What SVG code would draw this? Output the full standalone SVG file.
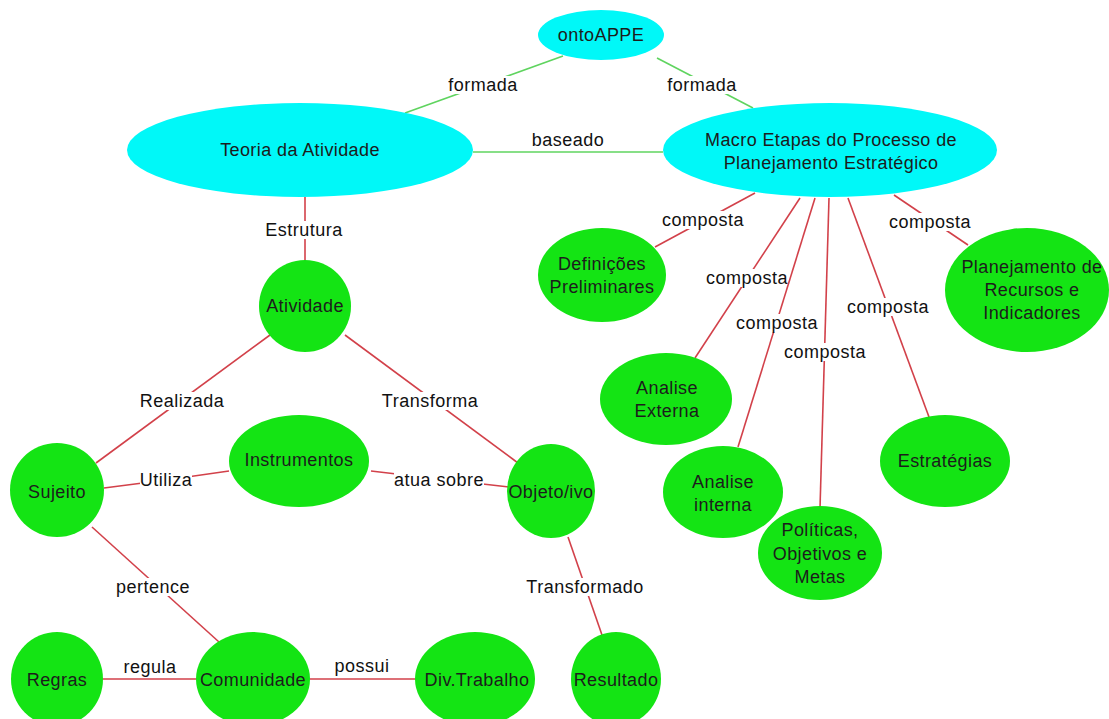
<svg xmlns="http://www.w3.org/2000/svg" width="1109" height="719" viewBox="0 0 1109 719">
  <style>
    .bg { fill: #ffffff; }
    .cy { fill: #00f8f8; }
    .gr { fill: #14e414; }
    .nt { font-family: "Liberation Sans", Arial, sans-serif; font-size: 18px; letter-spacing: 0.4px; fill: #1c1c1c; text-anchor: middle; }
    .lt { font-family: "Liberation Sans", Arial, sans-serif; font-size: 18px; letter-spacing: 0.5px; fill: #111111; text-anchor: middle; }
    .lg { stroke: #5fd45f; stroke-width: 1.6; fill: none; }
    .lr { stroke: #d2414a; stroke-width: 1.6; fill: none; }
    .lb { fill: #ffffff; }
  </style>

  <rect class="bg" x="0" y="0" width="1109" height="719"/>

  <!-- connectors: line, label backing, label text -->
  <g id="connectors">
    <g id="c-onto-teoria">
      <line class="lg" x1="563" y1="56" x2="405" y2="113"/>
      <rect class="lb" x="448" y="76" width="70" height="18"/>
      <text class="lt" x="483" y="91">formada</text>
    </g>
    <g id="c-onto-macro">
      <line class="lg" x1="657" y1="58" x2="753" y2="108"/>
      <rect class="lb" x="667" y="76" width="70" height="18"/>
      <text class="lt" x="702" y="91">formada</text>
    </g>
    <g id="c-teoria-macro">
      <line class="lg" x1="473" y1="152" x2="663" y2="152"/>
      <text class="lt" x="568" y="146">baseado</text>
    </g>
    <g id="c-teoria-atividade">
      <line class="lr" x1="305" y1="197" x2="305" y2="261"/>
      <rect class="lb" x="266" y="221" width="78" height="18"/>
      <text class="lt" x="304" y="236">Estrutura</text>
    </g>
    <g id="c-atividade-sujeito">
      <line class="lr" x1="270" y1="335" x2="96" y2="463"/>
      <rect class="lb" x="140" y="392" width="86" height="18"/>
      <text class="lt" x="182" y="407">Realizada</text>
    </g>
    <g id="c-atividade-objeto">
      <line class="lr" x1="345" y1="335" x2="518" y2="463"/>
      <rect class="lb" x="382" y="392" width="96" height="18"/>
      <text class="lt" x="430" y="407">Transforma</text>
    </g>
    <g id="c-sujeito-instrumentos">
      <polyline class="lr" points="104,488 166,480 229,471"/>
      <rect class="lb" x="140" y="471" width="52" height="18"/>
      <text class="lt" x="166" y="486">Utiliza</text>
    </g>
    <g id="c-instrumentos-objeto">
      <polyline class="lr" points="371,471 439,479 509,487"/>
      <rect class="lb" x="394" y="471" width="90" height="18"/>
      <text class="lt" x="439" y="486">atua sobre</text>
    </g>
    <g id="c-sujeito-comunidade">
      <line class="lr" x1="92" y1="527" x2="219" y2="642"/>
      <rect class="lb" x="116" y="578" width="74" height="18"/>
      <text class="lt" x="153" y="593">pertence</text>
    </g>
    <g id="c-objeto-resultado">
      <line class="lr" x1="568" y1="537" x2="602" y2="635"/>
      <rect class="lb" x="526" y="578" width="118" height="18"/>
      <text class="lt" x="585" y="593">Transformado</text>
    </g>
    <g id="c-regras-comunidade">
      <line class="lr" x1="103" y1="679" x2="196" y2="679"/>
      <text class="lt" x="150" y="673">regula</text>
    </g>
    <g id="c-comunidade-div">
      <line class="lr" x1="310" y1="679" x2="415" y2="679"/>
      <text class="lt" x="362" y="672">possui</text>
    </g>
    <g id="c-macro-definicoes">
      <line class="lr" x1="755" y1="193" x2="655" y2="247"/>
      <rect class="lb" x="662" y="211" width="82" height="18"/>
      <text class="lt" x="703" y="226">composta</text>
    </g>
    <g id="c-macro-externa">
      <line class="lr" x1="800" y1="198" x2="695" y2="358"/>
      <rect class="lb" x="706" y="269" width="82" height="18"/>
      <text class="lt" x="747" y="284">composta</text>
    </g>
    <g id="c-macro-interna">
      <line class="lr" x1="815" y1="198" x2="738" y2="447"/>
      <rect class="lb" x="736" y="314" width="82" height="18"/>
      <text class="lt" x="777" y="329">composta</text>
    </g>
    <g id="c-macro-politicas">
      <line class="lr" x1="829" y1="198" x2="820" y2="508"/>
      <rect class="lb" x="784" y="343" width="82" height="18"/>
      <text class="lt" x="825" y="358">composta</text>
    </g>
    <g id="c-macro-estrategias">
      <line class="lr" x1="848" y1="198" x2="929" y2="417"/>
      <rect class="lb" x="847" y="298" width="82" height="18"/>
      <text class="lt" x="888" y="313">composta</text>
    </g>
    <g id="c-macro-planejamento">
      <line class="lr" x1="894" y1="195" x2="968" y2="245"/>
      <rect class="lb" x="889" y="213" width="82" height="18"/>
      <text class="lt" x="930" y="228">composta</text>
    </g>
  </g>

  <!-- concept nodes -->
  <g id="n-ontoappe">
    <ellipse class="cy" cx="601" cy="35" rx="63" ry="25"/>
    <text class="nt" x="601" y="41">ontoAPPE</text>
  </g>
  <g id="n-teoria">
    <ellipse class="cy" cx="300" cy="150" rx="173" ry="47"/>
    <text class="nt" x="300" y="156">Teoria da Atividade</text>
  </g>
  <g id="n-macro">
    <ellipse class="cy" cx="830" cy="150" rx="167" ry="47"/>
    <text class="nt" x="831" y="146">Macro Etapas do Processo de</text>
    <text class="nt" x="831" y="169">Planejamento Estratégico</text>
  </g>
  <g id="n-definicoes">
    <ellipse class="gr" cx="602" cy="275" rx="64" ry="47"/>
    <text class="nt" x="602" y="270">Definições</text>
    <text class="nt" x="602" y="293">Preliminares</text>
  </g>
  <g id="n-planejamento">
    <ellipse class="gr" cx="1027" cy="290" rx="82" ry="62"/>
    <text class="nt" x="1032" y="273">Planejamento de</text>
    <text class="nt" x="1032" y="296">Recursos e</text>
    <text class="nt" x="1032" y="319">Indicadores</text>
  </g>
  <g id="n-externa">
    <ellipse class="gr" cx="666" cy="399" rx="66" ry="46"/>
    <text class="nt" x="667" y="394">Analise</text>
    <text class="nt" x="667" y="417">Externa</text>
  </g>
  <g id="n-interna">
    <ellipse class="gr" cx="723" cy="492" rx="60" ry="46"/>
    <text class="nt" x="723" y="488">Analise</text>
    <text class="nt" x="723" y="511">interna</text>
  </g>
  <g id="n-politicas">
    <ellipse class="gr" cx="820" cy="553" rx="62" ry="47"/>
    <text class="nt" x="820" y="536">Políticas,</text>
    <text class="nt" x="820" y="560">Objetivos e</text>
    <text class="nt" x="820" y="583">Metas</text>
  </g>
  <g id="n-estrategias">
    <ellipse class="gr" cx="945" cy="461" rx="65" ry="46"/>
    <text class="nt" x="945" y="467">Estratégias</text>
  </g>
  <g id="n-atividade">
    <ellipse class="gr" cx="305" cy="306" rx="46" ry="46"/>
    <text class="nt" x="305" y="312">Atividade</text>
  </g>
  <g id="n-sujeito">
    <ellipse class="gr" cx="57" cy="490" rx="47" ry="47"/>
    <text class="nt" x="57" y="498">Sujeito</text>
  </g>
  <g id="n-instrumentos">
    <ellipse class="gr" cx="299" cy="461" rx="70" ry="46"/>
    <text class="nt" x="299" y="466">Instrumentos</text>
  </g>
  <g id="n-objeto">
    <ellipse class="gr" cx="551" cy="491" rx="44" ry="47"/>
    <text class="nt" x="551" y="498">Objeto/ivo</text>
  </g>
  <g id="n-regras">
    <ellipse class="gr" cx="57" cy="679" rx="46" ry="47"/>
    <text class="nt" x="57" y="686">Regras</text>
  </g>
  <g id="n-comunidade">
    <ellipse class="gr" cx="253" cy="679" rx="57" ry="47"/>
    <text class="nt" x="253" y="686">Comunidade</text>
  </g>
  <g id="n-divtrabalho">
    <ellipse class="gr" cx="475" cy="679" rx="60" ry="47"/>
    <text class="nt" x="477" y="686">Div.Trabalho</text>
  </g>
  <g id="n-resultado">
    <ellipse class="gr" cx="616" cy="679" rx="45" ry="47"/>
    <text class="nt" x="616" y="686">Resultado</text>
  </g>
</svg>
